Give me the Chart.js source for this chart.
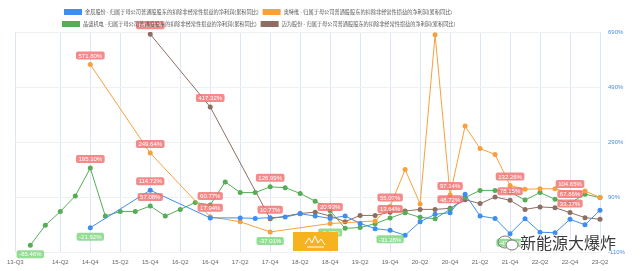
<!DOCTYPE html>
<html>
<head>
<meta charset="utf-8">
<script src="https://cdn.jsdelivr.net/npm/chart.js@4.4.0/dist/chart.umd.min.js"></script>
<style>
  body { margin: 0; background: #fff; }
  #wrap { position: relative; width: 640px; height: 271px; }
  #stamp { position: absolute; left: 293px; top: 232px; width: 45px; height: 19px; background: #f5b31f; }
  #mark { position: absolute; left: 496px; top: 232px; font: 16px "Noto Sans CJK SC", sans-serif; color: #3a3a3a;
    text-shadow: 1px 0 #fff, -1px 0 #fff, 0 1px #fff, 0 -1px #fff; white-space: nowrap; line-height: 20px; }
</style>
</head>
<body>
<div id="wrap">
  <canvas id="c"></canvas>
  <div id="stamp"><svg width="45" height="19"><polyline points="12,12 16,6 19,11 22,4 25,11 28,7 32,13" fill="none" stroke="#fff" stroke-width="1"/><line x1="14" y1="15" x2="31" y2="15" stroke="#fff" stroke-width="1"/></svg></div>
  <div id="mark"><svg width="24" height="18" style="vertical-align:-3px"><ellipse cx="9" cy="8" rx="7" ry="6" fill="none" stroke="#777" stroke-width="1"/><ellipse cx="16" cy="11" rx="6" ry="5" fill="#fff" stroke="#777" stroke-width="1"/></svg>新能源大爆炸</div>
</div>
<script>
// 季度标签 13-Q3 .. 23-Q2
const quarters = [
  '13-Q3','13-Q4','14-Q1','14-Q2','14-Q3','14-Q4','15-Q1','15-Q2','15-Q3','15-Q4',
  '16-Q1','16-Q2','16-Q3','16-Q4','17-Q1','17-Q2','17-Q3','17-Q4','18-Q1','18-Q2',
  '18-Q3','18-Q4','19-Q1','19-Q2','19-Q3','19-Q4','20-Q1','20-Q2','20-Q3','20-Q4',
  '21-Q1','21-Q2','21-Q3','21-Q4','22-Q1','22-Q2','22-Q3','22-Q4','23-Q1','23-Q2'
];

const metric = ' - 归属于母公司普通股股东的扣除非经常性损益的净利润(累积同比)';

// 累积同比 (%)
const jinchen = [
  null, null, null, null, null, -21.92, null, null, null, 114.72,
  null, null, null, 14, null, 14, 12, 15, 17, 29,
  21, 12, 21, -6, -25, -31.28, -49, 0, 27, 33,
  100, 21, 12, -43.21, 11, -38, -40, 9, -11, 42
];
const aotewei = [
  null, null, null, null, null, 571.80, null, null, null, 249.64,
  null, null, null, 17.94, null, 0, null, -37.01, null, null,
  null, -6.48, null, null, 3, 55.07, 190, 65, 680, 97.14,
  348, 266, 245, 132.26, 118, 120, 120, 104.65, 112, 88
];
const jingsheng = [
  null, -85.46, -13, 37, 94, 195.10, 21, 37, 37, 57.08,
  21, 45, 70, 60.77, 145, 106, 106, 126.99, 124, 103,
  75, 40, -24, -21, -7, 13.64, 33, 16, 11, 45,
  88, 114, 114, 108, 79, 106, 82, 67.86, 100, 88
];
const maiwei = [
  null, null, null, null, null, null, null, null, null, 681.81,
  null, null, null, 417.32, null, null, null, 10.77, null, 30,
  35, 20.93, 0, 23, 23, 35, 39, 45, 45, 48.72,
  80, 66, 90, 78.15, 45, 54, 51, 33.37, 15, 9
];

// 带数值标签的点
const jinchenTags = [5, 9, 25, 33];
const aoteweiTags = [5, 9, 13, 17, 21, 25, 29, 33, 37];
const jingshengTags = [1, 5, 9, 13, 17, 25, 37];
const maiweiTags = [9, 13, 17, 21, 29, 33, 37];

const series = [
  { name: '金辰股份', color: '#3d8ef0', data: jinchen, tags: jinchenTags },
  { name: '奥特维', color: '#f7a03c', data: aotewei, tags: aoteweiTags },
  { name: '晶盛机电', color: '#55ad55', data: jingsheng, tags: jingshengTags },
  { name: '迈为股份', color: '#8d6e63', data: maiwei, tags: maiweiTags }
];

function showTick(i) {
  return i === 0 || (i >= 3 && i % 2 === 1);
}

// 数值标签
const tagPlugin = {
  id: 'tags',
  afterDatasetsDraw(chart) {
    const ctx = chart.ctx;
    ctx.save();
    ctx.font = '6px "Liberation Sans", Arial, sans-serif';
    ctx.textAlign = 'center';
    ctx.textBaseline = 'middle';
    chart.data.datasets.forEach((ds, di) => {
      const meta = chart.getDatasetMeta(di);
      ds.tags.forEach(i => {
        const pt = meta.data[i];
        const v = ds.data[i];
        const txt = v.toFixed(2) + '%';
        const w = ctx.measureText(txt).width + 5, h = 8;
        const y = v >= 0 ? pt.y - 9 : pt.y + 9;
        ctx.fillStyle = v >= 0 ? 'rgba(242,112,112,0.82)' : 'rgba(125,214,125,0.82)';
        ctx.beginPath();
        ctx.roundRect(pt.x - w / 2, y - h / 2, w, h, 2);
        ctx.fill();
        ctx.fillStyle = '#fff';
        ctx.fillText(txt, pt.x, y + 0.5);
      });
    });
    ctx.restore();
  }
};

// 图例 (两行)
const legendPlugin = {
  id: 'legend2',
  afterDraw(chart) {
    const ctx = chart.ctx;
    const rows = [[0, 1], [2, 3]];
    const startX = [64, 62];
    const rowY = [12, 24];
    ctx.save();
    ctx.font = '5.2px "Noto Sans CJK SC", sans-serif';
    ctx.textBaseline = 'middle';
    rows.forEach((row, r) => {
      let x = startX[r];
      row.forEach(k => {
        const s = series[k];
        ctx.fillStyle = s.color;
        ctx.fillRect(x, rowY[r] - 3, 18, 6);
        x += 21;
        ctx.fillStyle = '#555';
        const txt = s.name + metric;
        ctx.fillText(txt, x, rowY[r]);
        x += ctx.measureText(txt).width + 4;
      });
    });
    ctx.restore();
  }
};

new Chart(document.getElementById('c'), {
  type: 'line',
  data: {
    labels: quarters,
    datasets: series.map(s => ({
      label: s.name + metric,
      data: s.data,
      tags: s.tags,
      borderColor: s.color,
      backgroundColor: s.color,
      borderWidth: 1,
      pointRadius: 2.5,
      pointBorderWidth: 0,
      tension: 0,
      spanGaps: true
    }))
  },
  options: {
    responsive: true,
    maintainAspectRatio: false,
    animation: false,
    layout: { padding: { left: 15, top: 32, right: 0, bottom: 0 } },
    plugins: {
      legend: { display: false },
      tooltip: { enabled: false }
    },
    scales: {
      x: {
        offset: false,
        afterFit: s => { s.height = 19; },
        border: { display: false },
        grid: {
          drawTicks: false,
          color: c => showTick(c.index) ? '#dbe7f4' : 'transparent'
        },
        ticks: {
          autoSkip: false,
          maxRotation: 0,
          padding: 7,
          color: '#666',
          font: { size: 6, family: '"Liberation Sans", Arial, sans-serif' },
          callback: (v, i) => showTick(i) ? quarters[i] : ''
        }
      },
      y: {
        position: 'right',
        min: -110,
        max: 690,
        afterFit: s => { s.width = 40; },
        border: { display: false },
        grid: { drawTicks: false, color: '#eef0f3' },
        ticks: {
          stepSize: 200,
          padding: 8,
          color: '#4a90e2',
          font: { size: 6, family: '"Liberation Sans", Arial, sans-serif' },
          callback: v => v + '%'
        }
      }
    }
  },
  plugins: [tagPlugin, legendPlugin]
});
</script>
</body>
</html>
